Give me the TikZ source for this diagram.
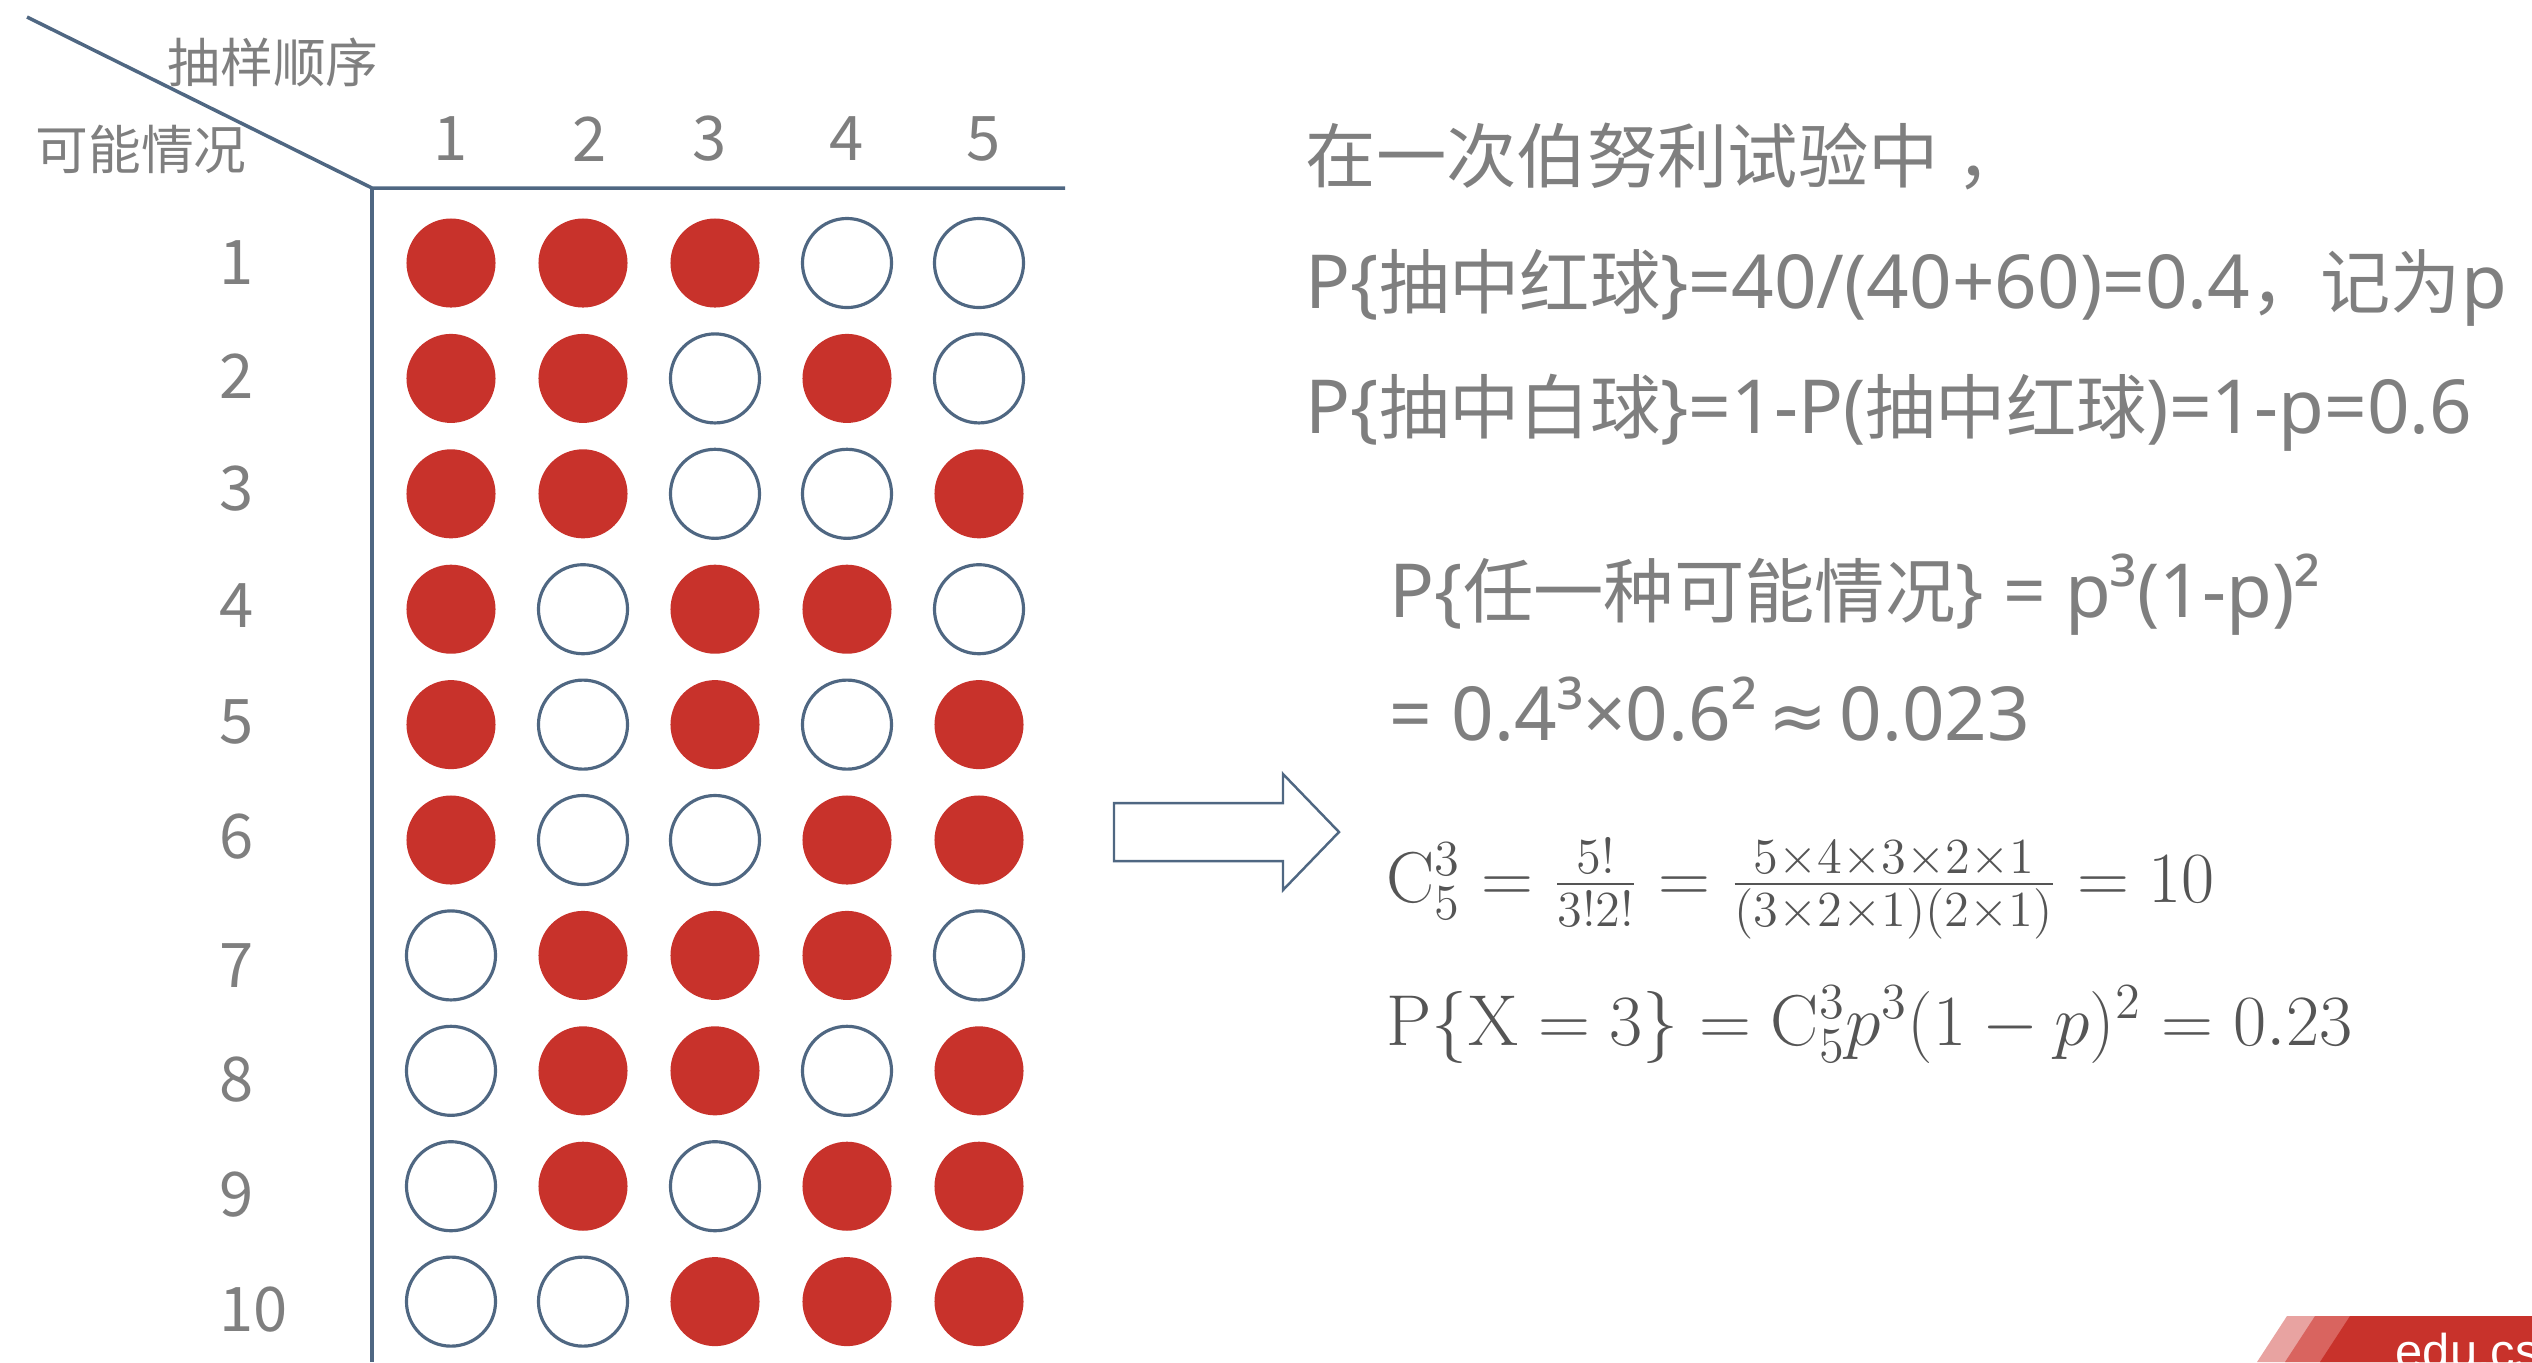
\RequirePackage{fix-cm}
\documentclass[tikz,border=0pt]{standalone}
\usepackage{fontspec}
\newfontfamily\cjk{Noto Sans CJK SC}
\newfontfamily\lat{Noto Sans}[Scale=1.06]
\newfontfamily\sym{DejaVu Sans}
\newfontfamily\bannerfont{Liberation Sans}
\usetikzlibrary{positioning}
\definecolor{ballred}{HTML}{C8322B}
\definecolor{slate}{HTML}{4F6782}
\definecolor{txtgray}{HTML}{7F7F7F}
\definecolor{mathgray}{HTML}{555555}
\definecolor{bannerlight}{HTML}{E8A3A1}
\definecolor{bannermid}{HTML}{D9645F}
\tikzset{
        ball/.style={circle, minimum size=0.89cm, inner sep=0pt, line width=0.9pt}, % every ball of the table
        ball0/.style={ball, draw=slate, fill=white}, % white ball
        ball1/.style={ball, fill=ballred}, % red ball
        grid line/.style={slate, line width=1pt}, % lines of the table head
        head/.style={font=\cjk\fontsize{15}{18}\selectfont, text=txtgray, inner sep=0pt},
        num/.style={font=\cjk\fontsize{17.5}{21}\selectfont, text=txtgray, inner sep=0pt},
        say/.style={font=\cjk\fontsize{20}{24}\selectfont, text=txtgray, inner sep=0pt, anchor=base west},
        formula/.style={font=\fontsize{20.5}{24}\selectfont, text=mathgray, inner sep=0pt, anchor=base west},
    }
\begin{document}
\begin{tikzpicture}[x=0.01cm, y=-0.01cm]
    \useasboundingbox (0,0) rectangle (2532,1362);
    % table head
    \coordinate (diag) at (27,17);
    \coordinate (corner) at (372,188);
    \coordinate (hend) at (1065,188);
    \coordinate (vend) at (372,1362);
    \draw[grid line] (diag) -- (corner) -- (hend);
    \draw[grid line] (corner) -- (vend);
    \node[head] (order) at (273,62) {抽样顺序};
    \node[head] (cases) at (141,149) {可能情况};
    \foreach \x [count=\i] in {451,590,710,847,984}
      \node[num] (c\i) at (\x,139) {\i};
    % the ten cases
    \foreach \r/\ly/\pat in {1/263/{1,1,1,0,0}, 2/376/{1,1,0,1,0}, 3/489/{1,1,0,0,1}, 4/606/{1,0,1,1,0},
                             5/722/{1,0,1,0,1}, 6/837/{1,0,0,1,1}, 7/966/{0,1,1,1,0}, 8/1080/{0,1,1,0,1},
                             9/1195/{0,1,0,1,1}, 10/1310/{0,0,1,1,1}} {
      \node[num, anchor=west] (r\r) at (219,\ly) {\r};
      \foreach \b [count=\j] in \pat
        \node[ball\b] (b\r-\j) at ({451+132*(\j-1)}, {263+115.4*(\r-1)}) {};
    }
    % the arrow
    \draw[slate, line width=0.7pt] (1114,803) -- (1283,803) -- (1283,774) -- (1339,832)
      -- (1283,890) -- (1283,861) -- (1114,861) -- cycle;
    % text on the right
    \node[say] (l1) at (1305,182) {在一次伯努利试验中\hspace{0.25em}，};
    \node[say] (l2) at (1305,308) {{\lat P\{}抽中红球{\lat \}=40/(40+60)=0.4}，记为{\lat p}};
    \node[say] (l3) at (1305,433) {{\lat P\{}抽中白球{\lat \}=1-P(}抽中红球{\lat )=1-p=0.6}};
    \node[say] (l4) at (1389,617) {{\lat P\{}任一种可能情况{\lat \} = p³(1-p)²}};
    \node[say] (l5) at (1389,740) {\lat = 0.4³×0.6²{\sym\,≈\,}0.023};
    \node[formula] (comb) at (1386,902)
      {$\mathrm{C}_5^3=\frac{5!}{3!2!}=\frac{5\times4\times3\times2\times1}{(3\times2\times1)(2\times1)}=10$};
    \node[formula] (px) at (1386,1045) {$\mathrm{P}\{\mathrm{X}=3\}=\mathrm{C}_5^3p^3(1-p)^2=0.23$};
    % banner
    \fill[bannerlight] (2287,1316) -- (2532,1316) -- (2532,1362) -- (2257,1362) -- cycle;
    \fill[bannermid] (2315,1316) -- (2532,1316) -- (2532,1362) -- (2285,1362) -- cycle;
    \fill[ballred] (2350,1316) -- (2532,1316) -- (2532,1362) -- (2320,1362) -- cycle;
    \node[font=\bannerfont\fontsize{13.9}{16}\selectfont, text=white, inner sep=0pt, anchor=base west] (site) at (2395,1368) {edu.cs};
\end{tikzpicture}
\end{document}
